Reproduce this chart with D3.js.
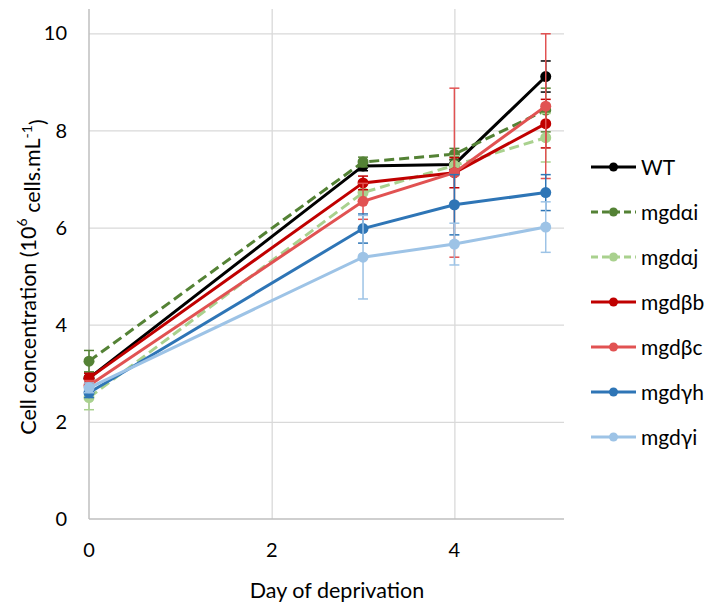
<!DOCTYPE html>
<html>
<head>
<meta charset="utf-8">
<script src="https://cdn.jsdelivr.net/npm/d3@7"></script>
<style>
  body { margin: 0; background: #fff; }
  text { font-family: Lato, "Open Sans", sans-serif; fill: #000; }
</style>
</head>
<body>
<div id="chart"></div>
<script>
const width = 714;
const height = 608;

const days = [0, 3, 4, 5];
const seriesNames = ["WT", "mgdαi", "mgdαj", "mgdβb", "mgdβc", "mgdγh", "mgdγi"];
const seriesColors = ["#000000", "#548235", "#a9d18e", "#c00000", "#e15252", "#2e75b6", "#9dc3e6"];
const seriesDashed = [false, true, true, false, false, false, false];

const wtValues = [2.9, 7.27, 7.3, 9.11];
const alphaIValues = [3.25, 7.35, 7.51, 8.42];
const alphaJValues = [2.5, 6.72, 7.28, 7.85];
const betaBValues = [2.9, 6.92, 7.13, 8.14];
const betaCValues = [2.75, 6.54, 7.13, 8.5];
const gammaHValues = [2.6, 5.98, 6.47, 6.72];
const gammaIValues = [2.7, 5.39, 5.66, 6.01];

const wtErrors = [0.1, 0.1, 0.1, 0.32];
const alphaIErrors = [0.22, 0.1, 0.12, 0.45];
const alphaJErrors = [0.25, 0.2, 0.2, 0.5];
const betaBErrors = [0.1, 0.14, 0.31, 0.5];
const betaCErrors = [0.1, 0.37, 1.74, 1.49];
const gammaHErrors = [0.1, 0.3, 0.62, 0.37];
const gammaIErrors = [0.1, 0.86, 0.43, 0.52];

const xTicks = [0, 2, 4];
const yTicks = [0, 2, 4, 6, 8, 10];

const allValues = [wtValues, alphaIValues, alphaJValues, betaBValues, betaCValues, gammaHValues, gammaIValues];
const allErrors = [wtErrors, alphaIErrors, alphaJErrors, betaBErrors, betaCErrors, gammaHErrors, gammaIErrors];

const series = seriesNames.map((name, i) => ({
    name,
    color: seriesColors[i],
    dashed: seriesDashed[i],
    points: days.map((d, j) => ({ day: d, value: allValues[i][j], err: allErrors[i][j] }))
}));

const plot = { left: 89, right: 564, top: 9, bottom: 519 };

const x = d3.scaleLinear().domain([0, 5.2]).range([plot.left, plot.right]);
const y = d3.scaleLinear().domain([0, 10.5]).range([plot.bottom, plot.top]);

const svg = d3.select("#chart").append("svg")
    .attr("width", width)
    .attr("height", height);

// gridlines
svg.append("g")
    .attr("transform", `translate(${plot.left},0)`)
    .call(d3.axisLeft(y).tickValues(yTicks.filter(t => t > 0)).tickSize(-(plot.right - plot.left)).tickFormat(""))
    .call(g => g.select(".domain").remove())
    .call(g => g.selectAll("line").attr("stroke", "#d9d9d9").attr("stroke-width", 1.3));

svg.append("g")
    .attr("transform", `translate(0,${plot.bottom})`)
    .call(d3.axisBottom(x).tickValues(xTicks.filter(t => t > 0)).tickSize(-(plot.bottom - plot.top)).tickFormat(""))
    .call(g => g.select(".domain").remove())
    .call(g => g.selectAll("line").attr("stroke", "#d9d9d9").attr("stroke-width", 1.3));

// axis lines
svg.append("line")
    .attr("x1", plot.left).attr("x2", plot.left)
    .attr("y1", plot.top).attr("y2", plot.bottom)
    .attr("stroke", "#bfbfbf").attr("stroke-width", 1.5);
svg.append("line")
    .attr("x1", plot.left).attr("x2", plot.right)
    .attr("y1", plot.bottom).attr("y2", plot.bottom)
    .attr("stroke", "#bfbfbf").attr("stroke-width", 1.5);

// tick labels
svg.append("g")
    .selectAll("text")
    .data(yTicks)
    .join("text")
    .attr("x", 67)
    .attr("y", d => y(d))
    .attr("dy", "0.36em")
    .attr("text-anchor", "end")
    .attr("font-size", 20)
    .text(d => d);

svg.append("g")
    .selectAll("text")
    .data(xTicks)
    .join("text")
    .attr("x", d => x(d))
    .attr("y", 550)
    .attr("dy", "0.36em")
    .attr("text-anchor", "middle")
    .attr("font-size", 20)
    .text(d => d);

// axis titles
svg.append("text")
    .attr("x", 337)
    .attr("y", 590)
    .attr("dy", "0.36em")
    .attr("text-anchor", "middle")
    .attr("font-size", 21.5)
    .text("Day of deprivation");

const yTitle = svg.append("text")
    .attr("transform", "translate(28,277) rotate(-90)")
    .attr("dy", "0.36em")
    .attr("text-anchor", "middle")
    .attr("font-size", 21.5);
yTitle.append("tspan").text("Cell concentration (10");
yTitle.append("tspan").attr("font-size", 14).attr("dy", "-0.6em").text("6");
yTitle.append("tspan").attr("dy", "0.6em").text(" cells.mL");
yTitle.append("tspan").attr("font-size", 14).attr("dy", "-0.6em").text("-1");
yTitle.append("tspan").attr("dy", "0.6em").text(")");

const line = d3.line().x(d => x(d.day)).y(d => y(d.value));

series.forEach(s => {
    const g = svg.append("g");
    const bars = g.selectAll("g.err")
        .data(s.points)
        .join("g")
        .attr("class", "err")
        .attr("stroke", s.color)
        .attr("stroke-width", 1.5);
    bars.append("line")
        .attr("x1", d => x(d.day)).attr("x2", d => x(d.day))
        .attr("y1", d => y(d.value - d.err)).attr("y2", d => y(d.value + d.err));
    bars.append("line")
        .attr("x1", d => x(d.day) - 5).attr("x2", d => x(d.day) + 5)
        .attr("y1", d => y(d.value + d.err)).attr("y2", d => y(d.value + d.err));
    bars.append("line")
        .attr("x1", d => x(d.day) - 5).attr("x2", d => x(d.day) + 5)
        .attr("y1", d => y(d.value - d.err)).attr("y2", d => y(d.value - d.err));

    g.append("path")
        .datum(s.points)
        .attr("d", line)
        .attr("fill", "none")
        .attr("stroke", s.color)
        .attr("stroke-width", 3)
        .attr("stroke-dasharray", s.dashed ? "10,5" : null);

    g.selectAll("circle")
        .data(s.points)
        .join("circle")
        .attr("cx", d => x(d.day))
        .attr("cy", d => y(d.value))
        .attr("r", 5.5)
        .attr("fill", s.color);
});

// legend
const legend = svg.append("g")
    .selectAll("g")
    .data(series)
    .join("g")
    .attr("transform", (d, i) => `translate(591,${167 + i * 45})`);

legend.append("line")
    .attr("x1", 0).attr("x2", 45)
    .attr("stroke", d => d.color)
    .attr("stroke-width", 3)
    .attr("stroke-dasharray", d => d.dashed ? "7,4" : null);
legend.append("circle")
    .attr("cx", 22.5)
    .attr("r", 4.5)
    .attr("fill", d => d.color);
legend.append("text")
    .attr("x", 50)
    .attr("dy", "0.36em")
    .attr("font-size", 21)
    .text(d => d.name);
</script>
</body>
</html>
